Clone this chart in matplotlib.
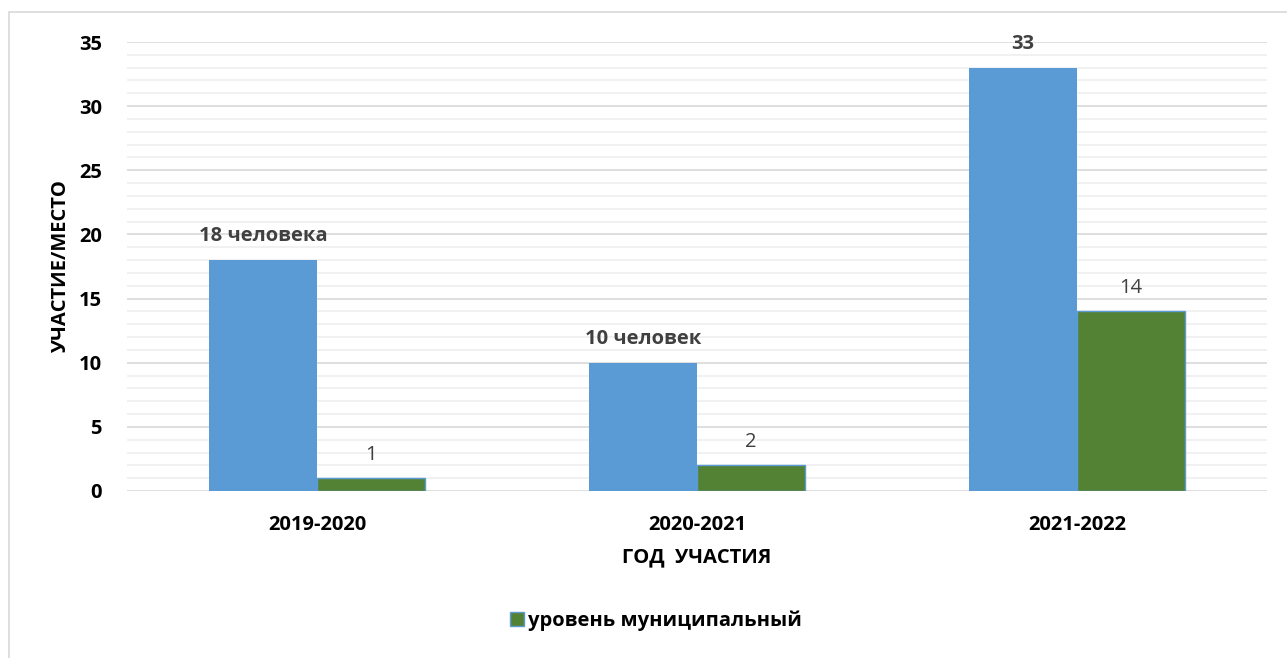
import matplotlib.pyplot as plt
import numpy as np
from matplotlib.patches import Rectangle, Patch
from matplotlib.ticker import MultipleLocator

years = ['2019-2020', '2020-2021', '2021-2022']
participants = [18, 10, 33]
places = [1, 2, 14]
participant_labels = ['18 человека', '10 человек', '33']
place_labels = ['1', '2', '14']

blue = '#5b9bd5'
green = '#548235'
txt = '#404040'
fs = 14.5

plt.rcParams['font.family'] = ['Open Sans', 'DejaVu Sans']

fig = plt.figure(figsize=(12.87, 6.58), dpi=100)
ax = fig.add_axes([127 / 1287, 1 - 491 / 658, 1140 / 1287, 449 / 658])

# frame of the chart area
fig.patches.append(Rectangle((9 / 1287, -0.05), 1.2, 1 - 12 / 658 + 0.05,
                             transform=fig.transFigure, fill=False,
                             edgecolor='#d9d9d9', linewidth=1.2))

x = np.arange(len(years))
w = 0.285
b1 = ax.bar(x - w / 2, participants, w, color=blue, zorder=3)
b2 = ax.bar(x + w / 2, places, w, color=green, edgecolor=blue, linewidth=1, zorder=3)

for rect, lab in zip(b1, participant_labels):
    ax.annotate(lab, (rect.get_x() + rect.get_width() / 2, rect.get_height()),
                xytext=(0, 17), textcoords='offset points', ha='center', va='center',
                fontsize=fs, fontweight='bold', color=txt)
for rect, lab in zip(b2, place_labels):
    ax.annotate(lab, (rect.get_x() + rect.get_width() / 2, rect.get_height()),
                xytext=(0, 17), textcoords='offset points', ha='center', va='center',
                fontsize=fs, color=txt)

ax.set_xlim(-0.5, 2.5)
ax.set_ylim(0, 35)
ax.yaxis.set_major_locator(MultipleLocator(5))
ax.yaxis.set_minor_locator(MultipleLocator(1))
ax.grid(axis='y', which='major', color='#d9d9d9', linewidth=1.2, zorder=0)
ax.grid(axis='y', which='minor', color='#efefef', linewidth=1.2, zorder=0)
ax.set_axisbelow(True)
for s in ax.spines.values():
    s.set_visible(False)
ax.tick_params(axis='both', which='both', length=0)
ax.tick_params(axis='y', pad=18)
ax.tick_params(axis='x', pad=17)
ax.set_xticks(x)
ax.set_xticklabels(years, fontsize=fs, fontweight='bold')
for t in ax.get_yticklabels():
    t.set_fontsize(fs)
    t.set_fontweight('bold')

ax.set_ylabel('УЧАСТИЕ/МЕСТО', fontsize=fs, fontweight='bold', va='center')
ax.yaxis.set_label_coords(-0.058, 0.5)
ax.set_xlabel('ГОД  УЧАСТИЯ', fontsize=fs, fontweight='bold', va='center')
ax.xaxis.set_label_coords(0.5, -0.148)

handle = Patch(facecolor=green, edgecolor=blue, linewidth=1)
fig.legend([handle], ['уровень муниципальный'], loc='center', bbox_to_anchor=(656 / 1287, 1 - 621 / 658),
           frameon=False, prop={'size': fs, 'weight': 'bold'}, handlelength=0.7, handleheight=0.7,
           handletextpad=0.2)

fig.savefig('out.png', dpi=100)
